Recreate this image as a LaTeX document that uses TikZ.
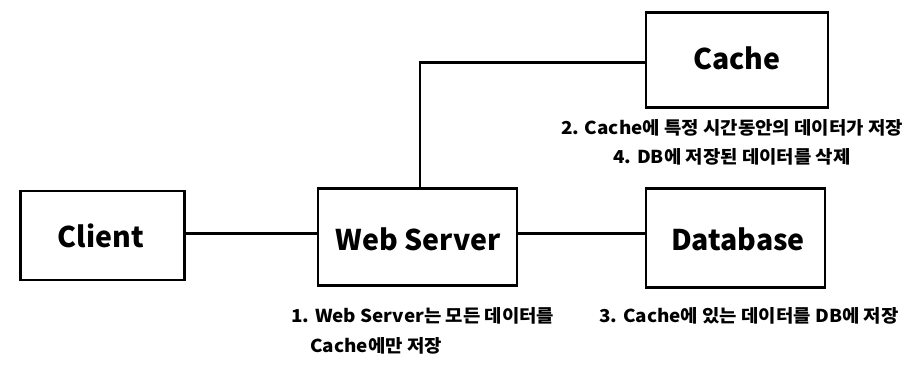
\documentclass[tikz,border=0pt]{standalone}
\usepackage{fontspec}
\setmainfont{Noto Sans CJK KR}
\newfontfamily\notefont{Noto Sans CJK KR}[FakeStretch=1.06]
\begin{document}
\begin{tikzpicture}[x=1pt,y=1pt,
  box/.style={draw,line width=2.6pt,minimum width=#1,inner sep=0pt},
  lbl/.style={font=\bfseries\fontsize{28.5}{30}\selectfont},
  note/.style={font=\notefont\bfseries\fontsize{17.8}{29}\selectfont,inner sep=0pt},
  conn/.style={line width=2.6pt}]
\useasboundingbox (0,0) rectangle (914,383);
\node[box=164pt,minimum height=89pt] (client) at (102.5,147.5) {};
\node[box=199pt,minimum height=97pt] (ws) at (417.5,146) {};
\node[box=182pt,minimum height=95pt] (cache) at (737,323) {};
\node[box=179pt,minimum height=99pt] (db) at (735.5,145) {};
\node[lbl] (tclient) at (101,147) {Client};
\node[lbl] (tws) at (418,144) {Web Server};
\node[lbl] (tcache) at (737,325) {Cache};
\node[lbl] (tdb) at (738,144) {Database};
\coordinate (mid) at (0,149.7);
\draw[conn] (client.east |- mid) -- (ws.west |- mid);
\draw[conn] (ws.east |- mid) -- (db.west |- mid);
\draw[conn] ([xshift=2.5pt]ws.north) |- ([yshift=-2.7pt]cache.west);
\node[note,align=center] (n24) at (732,240.5) {2. Cache에 특정 시간동안의 데이터가 저장\\4. DB에 저장된 데이터를 삭제};
\node[note,anchor=west] (n1a) at (291,67) {1. Web Server는 모든 데이터를};
\node[note,anchor=west] (n1b) at (310,37) {Cache에만 저장};
\node[note,anchor=west] (n3) at (599,67) {3. Cache에 있는 데이터를 DB에 저장};
\end{tikzpicture}
\end{document}
